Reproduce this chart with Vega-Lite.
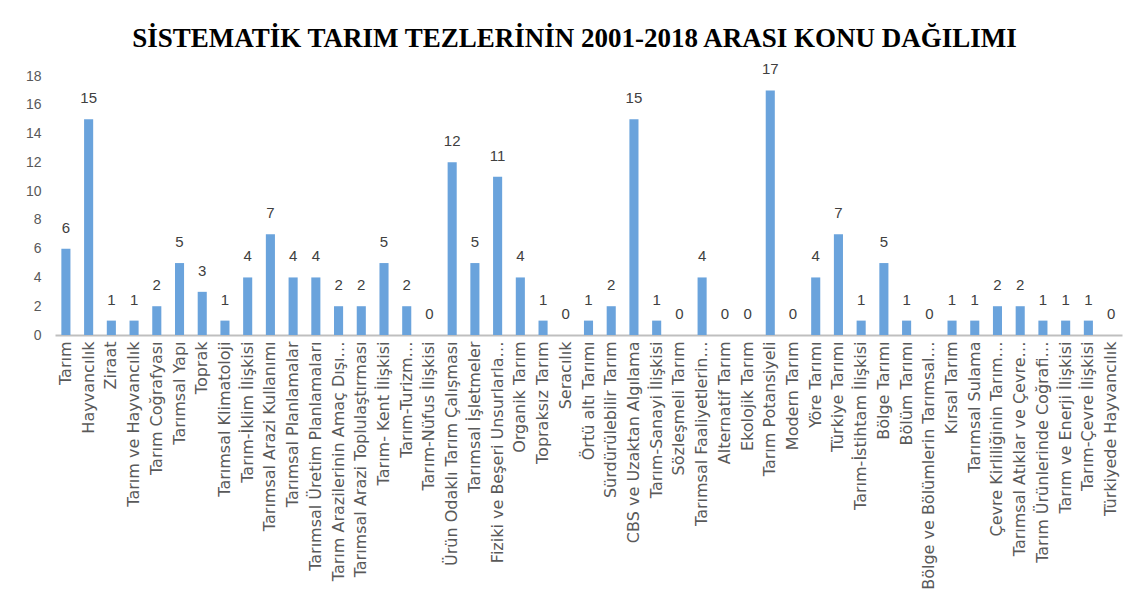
{
  "$schema": "https://vega.github.io/schema/vega-lite/v6.json",
  "autosize": {"type": "none"},
  "width": 1067,
  "height": 259,
  "padding": {"left": 55, "top": 76, "right": 18, "bottom": 263},
  "background": "white",
  "title": {
    "text": "SİSTEMATİK TARIM TEZLERİNİN 2001-2018 ARASI KONU DAĞILIMI",
    "font": "Liberation Serif",
    "fontSize": 27,
    "fontWeight": "bold",
    "color": "#000000",
    "anchor": "middle",
    "frame": "group",
    "baseline": "alphabetic",
    "offset": -12,
    "dx": -14
  },
  "config": {"view": {"stroke": null}},
  "data": {
    "values": [
      {"konu": "Tarım", "sayi": 6},
      {"konu": "Hayvancılık", "sayi": 15},
      {"konu": "Ziraat", "sayi": 1},
      {"konu": "Tarım ve Hayvancılık", "sayi": 1},
      {"konu": "Tarım Coğrafyası", "sayi": 2},
      {"konu": "Tarımsal Yapı", "sayi": 5},
      {"konu": "Toprak", "sayi": 3},
      {"konu": "Tarımsal Klimatoloji", "sayi": 1},
      {"konu": "Tarım-İklim İlişkisi", "sayi": 4},
      {"konu": "Tarımsal Arazi Kullanımı", "sayi": 7},
      {"konu": "Tarımsal Planlamalar", "sayi": 4},
      {"konu": "Tarımsal Üretim Planlamaları", "sayi": 4},
      {"konu": "Tarım Arazilerinin Amaç Dışı…", "sayi": 2},
      {"konu": "Tarımsal Arazi Toplulaştırması", "sayi": 2},
      {"konu": "Tarım- Kent İlişkisi", "sayi": 5},
      {"konu": "Tarım-Turizm…", "sayi": 2},
      {"konu": "Tarım-Nüfus İlişkisi", "sayi": 0},
      {"konu": "Ürün Odaklı Tarım Çalışması", "sayi": 12},
      {"konu": "Tarımsal İşletmeler", "sayi": 5},
      {"konu": "Fiziki ve Beşeri Unsurlarla…", "sayi": 11},
      {"konu": "Organik Tarım", "sayi": 4},
      {"konu": "Topraksız Tarım", "sayi": 1},
      {"konu": "Seracılık", "sayi": 0},
      {"konu": "Örtü altı Tarımı", "sayi": 1},
      {"konu": "Sürdürülebilir Tarım", "sayi": 2},
      {"konu": "CBS ve Uzaktan Algılama", "sayi": 15},
      {"konu": "Tarım-Sanayi İlişkisi", "sayi": 1},
      {"konu": "Sözleşmeli Tarım", "sayi": 0},
      {"konu": "Tarımsal Faaliyetlerin…", "sayi": 4},
      {"konu": "Alternatif Tarım", "sayi": 0},
      {"konu": "Ekolojik Tarım", "sayi": 0},
      {"konu": "Tarım Potansiyeli", "sayi": 17},
      {"konu": "Modern Tarım", "sayi": 0},
      {"konu": "Yöre Tarımı", "sayi": 4},
      {"konu": "Türkiye Tarımı", "sayi": 7},
      {"konu": "Tarım-İstihtam İlişkisi", "sayi": 1},
      {"konu": "Bölge Tarımı", "sayi": 5},
      {"konu": "Bölüm Tarımı", "sayi": 1},
      {"konu": "Bölge ve Bölümlerin Tarımsal…", "sayi": 0},
      {"konu": "Kırsal Tarım", "sayi": 1},
      {"konu": "Tarımsal Sulama", "sayi": 1},
      {"konu": "Çevre Kirliliğinin Tarım…", "sayi": 2},
      {"konu": "Tarımsal Atıklar ve Çevre…", "sayi": 2},
      {"konu": "Tarım Ürünlerinde Coğrafi…", "sayi": 1},
      {"konu": "Tarım ve Enerji İlişkisi", "sayi": 1},
      {"konu": "Tarım-Çevre İlişkisi", "sayi": 1},
      {"konu": "Türkiyede Hayvancılık", "sayi": 0}
    ]
  },
  "encoding": {
    "x": {
      "field": "konu",
      "type": "nominal",
      "sort": null,
      "scale": {"paddingInner": 0.6, "paddingOuter": 0.28},
      "axis": {
        "title": null,
        "labelAngle": -90,
        "labelFont": "DejaVu Sans",
        "labelFontSize": 16,
        "labelColor": "#595959",
        "labelPadding": 6,
        "labelLimit": 300,
        "ticks": false,
        "domainColor": "#bfbfbf",
        "domainWidth": 2
      }
    },
    "y": {
      "field": "sayi",
      "type": "quantitative",
      "scale": {"domain": [0, 18], "nice": false},
      "axis": {
        "title": null,
        "values": [0, 2, 4, 6, 8, 10, 12, 14, 16, 18],
        "domain": false,
        "ticks": false,
        "grid": false,
        "labelFont": "Liberation Sans",
        "labelFontSize": 14,
        "labelColor": "#595959",
        "labelPadding": 14
      }
    }
  },
  "layer": [
    {"mark": {"type": "bar", "color": "#6aa3dc"}},
    {
      "mark": {"type": "text", "dy": -21, "font": "Liberation Sans", "fontSize": 15, "color": "#404040"},
      "encoding": {"text": {"field": "sayi", "type": "quantitative"}}
    }
  ]
}
